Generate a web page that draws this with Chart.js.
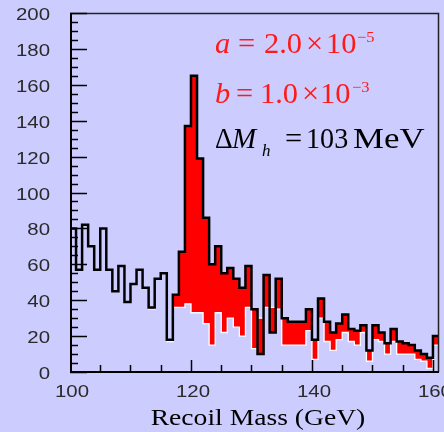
<!DOCTYPE html>
<html><head><meta charset="utf-8">
<script src="https://cdn.jsdelivr.net/npm/chart.js@4.4.1/dist/chart.umd.min.js"></script>
<style>html,body{margin:0;padding:0;background:#ccccff;}canvas{display:block;}</style>
</head><body>
<canvas id="c" width="444" height="432"></canvas>
<script>
// ---- data ----
const binWidth = 1; // GeV
const binLow = [100,101,102,103,104,105,106,107,108,109,110,111,112,113,114,115,116,117,118,119,
  120,121,122,123,124,125,126,127,128,129,130,131,132,133,134,135,136,137,138,139,
  140,141,142,143,144,145,146,147,148,149,150,151,152,153,154,155,156,157,158,159,160];
// black histogram
const totalCounts = [80,57,82,70,57,80,57,45,59,39,49,57,47,36,52,55,18,43,67,137,
  165,119,86,60,70,55,58,52,47,59,35,10,54,22,52,30,28,28,28,35,
  18,41,28,22,27,32,24,23,26,12,26,22,16,24,17,16,15,12,10,8,20];
// white (background) histogram
const bgCounts = [80,57,82,70,57,80,57,45,59,39,49,57,47,35,52,55,17,36,36,38,
  33,33,27,15,33,22,30,25,20,36,13,30,36,36,35,15,15,15,15,23,
  7,30,17,12,18,22,17,15,22,6,18,17,10,17,10,10,10,7,6,2,15];
const xTickLabels = [100,120,140,160];
const yTickLabels = [0,20,40,60,80,100,120,140,160,180,200];
const xTitle = 'Recoil Mass (GeV)';

function stepPoints(lows, vals){
  const pts = [];
  lows.forEach((lo,i)=>{ pts.push({x:lo,y:vals[i]}); pts.push({x:lo+binWidth,y:vals[i]}); });
  return pts;
}

const BG = '#ccccff';

function txt(ctx, s, x, y, font, color, align, sx){
  ctx.save(); ctx.font = font; ctx.fillStyle = color; ctx.textAlign = align || 'left';
  ctx.textBaseline = 'alphabetic'; ctx.translate(x,y); ctx.scale(sx || 1.2,1); ctx.fillText(s,0,0); ctx.restore();
}

const bgPlugin = {
  id:'bgfill',
  beforeDraw(chart){ const c=chart.ctx; c.save(); c.fillStyle=BG; c.fillRect(0,0,chart.width,chart.height); c.restore(); }
};

const axesPlugin = {
  id:'axesdraw',
  afterDraw(chart){
    const c = chart.ctx, xs = chart.scales.x, ys = chart.scales.y, a = chart.chartArea;
    c.save();
    // frame
    c.strokeStyle = '#222'; c.lineWidth = 1.5;
    c.beginPath(); c.moveTo(a.left, a.top+0.5); c.lineTo(a.right-0.5, a.top+0.5); c.lineTo(a.right-0.5, a.bottom); c.stroke();
    c.strokeStyle = '#000'; c.lineWidth = 2;
    c.beginPath(); c.moveTo(a.left+1, a.top); c.lineTo(a.left+1, a.bottom); c.lineTo(a.right, a.bottom); c.stroke();
    // y ticks
    c.lineWidth = 1.5; c.strokeStyle = '#000';
    for (let v = 0; v <= 200; v += 5){
      const y = Math.round(ys.getPixelForValue(v))+0.5;
      const len = (v % 20 === 0) ? 17 : 8;
      c.beginPath(); c.moveTo(a.left, y); c.lineTo(a.left+len, y); c.stroke();
    }
    // x ticks
    for (let v = 105; v <= 160; v += 5){
      const x = Math.round(xs.getPixelForValue(v))+0.5;
      const len = (v % 20 === 0) ? 12 : 7;
      c.beginPath(); c.moveTo(x, a.bottom); c.lineTo(x, a.bottom-len); c.stroke();
    }
    // tick labels
    const tf = '17px "Liberation Sans", Arial, sans-serif';
    yTickLabels.forEach(v=>{ txt(c, String(v), 50, ys.getPixelForValue(v)+7, tf, '#2a2a2a', 'right'); });
    xTickLabels.forEach(v=>{ txt(c, String(v), xs.getPixelForValue(v)+2, 397, tf, '#2a2a2a', 'center'); });
    // axis title
    txt(c, xTitle, 258, 425, '23px "Liberation Serif", "Times New Roman", serif', '#000', 'center');
    // annotations
    const big = '29px "Liberation Serif", "Times New Roman", serif';
    const bigI = 'italic 29px "Liberation Serif", "Times New Roman", serif';
    const sup = '15px "Liberation Serif", "Times New Roman", serif';
    const red = '#ff1a1a';
    const s = 1.05;
    txt(c,'a',215,53,bigI,red,'left',s); txt(c,'=',238,53,big,red,'left',s); txt(c,'2.0',264,53,big,red,'left',s);
    txt(c,'\u00d7',306,53,big,red,'left',s); txt(c,'10',326,53,big,red,'left',s); txt(c,'\u22125',357,42,sup,red,'left',1.1);
    txt(c,'b',215,103,bigI,red,'left',s); txt(c,'=',236,103,big,red,'left',s); txt(c,'1.0',260,103,big,red,'left',s);
    txt(c,'\u00d7',302,103,big,red,'left',s); txt(c,'10',320,103,big,red,'left',s); txt(c,'\u22123',352,92,sup,red,'left',1.1);
    txt(c,'\u0394',215,148,big,'#000','left',0.95); txt(c,'M',232,148,bigI,'#000','left',1.0);
    txt(c,'h',262,156,'italic 17px "Liberation Serif", serif','#000','left',1.0);
    txt(c,'=',285,148,big,'#000','left',s); txt(c,'103',306,148,big,'#000','left',0.97); txt(c,'MeV',353,148,big,'#000','left',1.2);
    c.restore();
  }
};

new Chart(document.getElementById('c'), {
  type:'line',
  data:{ datasets:[
    { label:'total', data: stepPoints(binLow,totalCounts), borderColor:'#000', borderWidth:2.5,
      pointRadius:0, fill:{target:1}, backgroundColor:'#ff0000', tension:0,
      borderJoinStyle:'miter', borderCapStyle:'butt' },
    { label:'background', data: stepPoints(binLow,bgCounts), borderColor:'#ffffff', borderWidth:1.3,
      pointRadius:0, fill:false, tension:0, borderJoinStyle:'miter' }
  ]},
  options:{
    responsive:false, animation:false, devicePixelRatio:1,
    layout:{ padding:{ left:70, top:13, right:5, bottom:60 } },
    scales:{
      x:{ type:'linear', min:100, max:161, display:false },
      y:{ type:'linear', min:0, max:200, display:false }
    },
    plugins:{ legend:{display:false}, tooltip:{enabled:false}, filler:{ drawTime:'beforeDatasetsDraw' } }
  },
  plugins:[bgPlugin, axesPlugin]
});
</script>
</body></html>
